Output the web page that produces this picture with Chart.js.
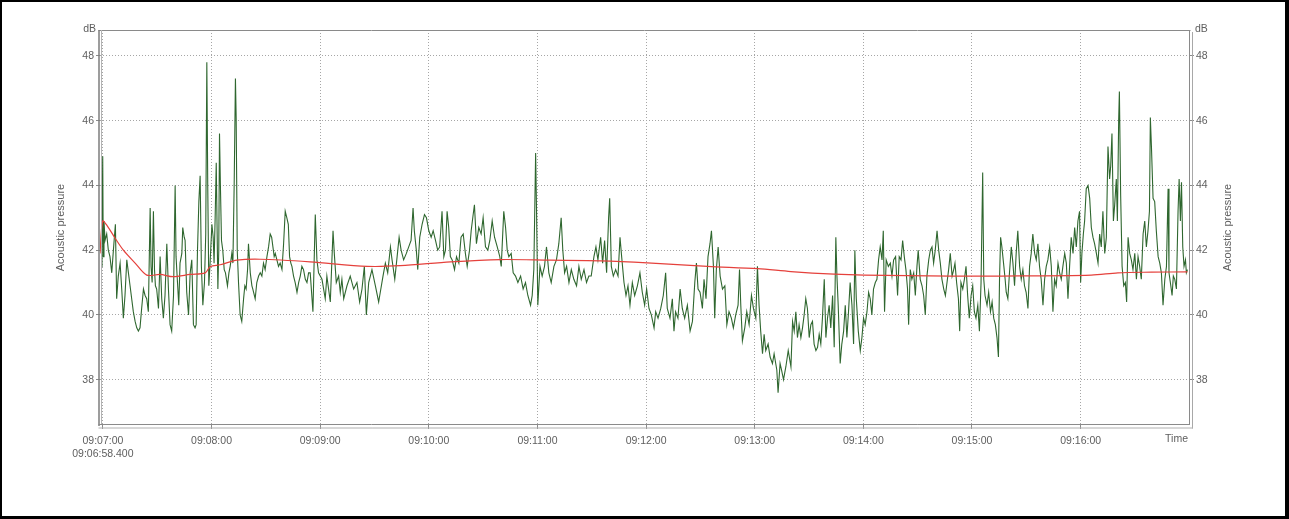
<!DOCTYPE html>
<html>
<head>
<meta charset="utf-8">
<script src="https://cdn.jsdelivr.net/npm/chart.js@4.4.1/dist/chart.umd.min.js"></script>
<style>
  html, body { margin: 0; padding: 0; background: #fff; }
  #wrap { position: relative; width: 1289px; height: 519px; overflow: hidden; }
  #chart { position: absolute; left: 0; top: 0; }
  #frame { position: absolute; left: 0; top: 0; width: 1289px; height: 519px; box-sizing: border-box;
           border: 2px solid #000; border-right-width: 4px; border-bottom-width: 3px; pointer-events: none; }
</style>
</head>
<body>
<div id="wrap">
  <canvas id="chart" width="1289" height="519"></canvas>
  <div id="frame"></div>
</div>
<script>
// Recording start and the minute marks shown on the time axis
const startLabel = '09:06:58.400';
const minuteLabels = ['09:07:00', '09:08:00', '09:09:00', '09:10:00', '09:11:00',
                      '09:12:00', '09:13:00', '09:14:00', '09:15:00', '09:16:00'];
const dbTicks = [38, 40, 42, 44, 46, 48];

// Instantaneous acoustic pressure: seconds after start, level in dB
const levelTimes = [
  0.6, 1.1, 1.5, 1.8, 2.2, 2.8, 3.7, 4.6, 5.5, 6.5, 7.4, 8.5, 9.2, 10.1, 11.1, 12.0, 12.9, 13.8, 14.8, 15.7,
  16.6, 17.5, 18.4, 19.4, 20.3, 21.2, 22.1, 23.0, 24.0, 24.9, 25.8, 26.7, 27.7, 28.2, 28.8, 29.5, 30.1, 30.6, 31.3, 32.3,
  33.2, 34.1, 35.0, 35.9, 36.9, 37.8, 38.7, 39.6, 40.6, 41.5, 42.0, 42.8, 43.5, 44.2, 45.2, 45.7, 46.5, 47.0, 47.9, 48.9,
  49.8, 50.7, 51.6, 52.5, 53.1, 53.8, 54.6, 55.3, 56.0, 56.8, 57.7, 58.4, 59.0, 59.5, 60.1, 60.8, 61.8, 62.5, 63.0, 63.6,
  64.2, 65.1, 65.6, 66.0, 66.5, 67.1, 67.8, 68.6, 69.3, 70.4, 71.2, 71.9, 72.8, 73.4, 74.1, 74.8, 75.2, 75.8, 76.5, 77.4,
  78.3, 79.3, 80.0, 80.7, 81.5, 82.0, 83.0, 83.9, 84.4, 85.7, 86.6, 87.6, 88.5, 89.4, 90.3, 91.2, 92.2, 93.1, 94.0, 94.8,
  95.5, 96.2, 96.8, 97.7, 98.6, 99.5, 100.5, 101.4, 102.3, 103.2, 104.0, 104.7, 105.4, 106.0, 106.9, 107.8, 108.8, 109.7, 110.6, 111.5,
  112.4, 113.4, 114.3, 115.2, 116.1,
  117.6, 118.9, 119.8, 120.7, 122.6, 124.4, 125.3, 127.2, 128.7, 129.4, 130.5, 131.8, 132.7, 133.6, 134.6, 136.4, 138.2, 140.1, 141.9, 143.4,
  144.7, 146.0, 147.1, 148.4, 150.2, 152.1, 153.9, 154.8, 156.3, 157.6, 158.9, 160.4, 161.3, 162.8, 164.1, 165.2, 166.3, 167.7, 169.2, 170.5,
  171.8, 172.9, 173.6, 174.7, 175.5, 176.6, 177.9, 179.2, 180.3, 181.6, 182.9, 184.0, 185.3, 186.5, 187.6, 188.9, 189.9, 190.8, 191.7, 192.6,
  193.5, 194.5, 195.8, 196.9, 198.2, 199.4, 200.6, 201.8, 202.8, 204.1, 205.0, 206.1, 206.8, 207.9, 209.2, 210.5, 211.6, 212.9, 214.2, 215.3,
  216.6, 217.9, 219.4, 220.8, 221.6, 223.0, 224.0, 224.9, 225.8, 227.1, 228.2, 229.5, 230.8, 232.3, 233.7, 235.0, 236.3, 237.8, 238.7, 239.6,
  240.6, 241.1, 241.8, 243.0, 244.2, 245.5, 246.6, 247.9,
  249.2, 250.7, 252.1, 253.4, 254.7, 255.6, 256.6, 257.7, 259.0, 260.3, 261.7, 263.2, 264.5, 265.8, 267.3, 268.7, 270.0, 271.3, 272.8, 273.9,
  275.0, 276.5, 277.6, 278.7, 279.8, 280.9, 281.5, 282.4, 283.5, 284.8, 286.1, 287.2, 288.1, 289.4, 290.5, 291.6, 292.7, 294.0, 295.3, 296.8,
  298.2, 299.5, 300.8, 301.9, 303.2, 304.5, 306.0, 306.9, 308.2, 309.7, 311.1, 312.4, 313.3, 314.8, 316.1, 317.0, 317.9, 319.2, 320.4, 321.6,
  322.9, 324.4, 325.9, 327.2, 328.5, 329.4, 330.3, 331.4, 332.7, 333.6, 334.7, 335.8, 336.9, 337.7, 338.8, 339.5, 340.4, 341.4, 342.5, 343.8,
  345.1, 346.2, 347.4, 348.7, 349.8, 351.1, 352.4, 353.2, 353.9, 354.8, 356.1, 357.2, 358.5, 359.8, 360.9, 362.2, 363.1, 364.0, 364.9, 365.9,
  366.8, 367.7, 369.0, 370.1, 371.4, 372.3, 373.8, 374.5, 375.6, 376.4, 377.5, 378.8, 380.1, 381.6,
  382.5, 383.4, 384.3, 385.2, 386.1, 387.1, 388.0, 388.9, 389.8, 390.7, 391.7, 392.6, 393.5, 394.4, 395.4, 396.3, 397.2, 398.1, 399.0, 400.0,
  400.9, 401.8, 402.7, 403.6, 404.6, 405.5, 406.4, 407.0, 407.7, 408.8, 409.7, 410.7, 411.6, 412.5, 413.4, 414.3, 415.3, 416.2, 416.9, 417.7,
  418.8, 419.9, 420.8, 421.7, 422.6, 423.6, 424.5, 425.4, 426.3, 427.2, 428.2, 429.1, 430.0, 430.9, 431.9, 432.6, 433.3, 434.2, 435.4, 436.5,
  437.4, 438.3, 439.4, 440.5, 441.4, 442.4, 443.3, 444.2, 445.1, 446.0, 446.6, 447.5, 448.4, 449.4, 450.3, 451.2, 451.9, 453.0, 454.0, 454.9,
  455.8, 456.7, 457.7, 458.6, 459.5, 460.4, 461.3, 462.3, 463.2, 464.1, 465.0, 466.0, 466.9, 467.8, 468.7, 469.6, 470.6, 471.5, 472.2, 473.1,
  474.1, 474.8, 475.5, 476.5, 477.4, 478.3, 479.2, 480.1, 481.1, 482.0, 482.9, 483.8, 484.8, 485.7, 486.6, 487.5, 488.1, 488.8, 489.9, 490.8,
  491.8, 492.7, 493.6, 494.5, 495.4, 496.2,
  496.8, 497.4, 498.1, 499.2, 499.9, 500.5, 501.4, 502.3, 503.3, 504.2, 505.1, 506.0, 506.9, 507.9, 508.8, 509.7, 510.6, 511.5, 512.5, 513.4,
  514.3, 515.2, 516.2, 517.1, 518.0, 518.9, 519.8, 520.8, 521.7, 522.6, 523.5, 524.5, 525.4, 526.3, 527.2, 528.1, 529.1, 530.0, 530.9, 531.8,
  532.8, 533.7, 534.6, 535.5, 536.4, 537.4, 538.3, 539.2, 540.1, 541.0, 541.6, 542.3, 543.1, 543.8, 544.7, 545.7, 546.6, 547.5, 548.4, 549.3,
  550.3, 551.2, 552.1, 553.0, 553.9, 554.9, 555.8, 556.7, 557.6, 558.2, 558.9, 559.7, 560.4, 561.3, 561.9, 562.6, 563.0, 563.7, 564.5, 565.4,
  566.3, 567.0, 567.8, 568.7, 569.6, 570.5, 571.5, 572.4, 573.3, 574.2, 575.1, 576.1, 577.0, 577.9, 578.8, 579.6, 580.1, 580.7, 581.6, 582.5,
  583.4, 584.4, 585.3, 586.2, 587.1, 588.1, 589.0, 589.9, 590.4, 591.4, 592.1, 592.8, 593.6, 594.5, 595.4, 596.0, 596.7, 597.3, 598.0, 598.7,
  599.5, 600.0, 600.6
];
const levelDb = [
  41.5, 42.0, 44.9, 41.8, 42.9, 42.3, 42.5, 42.0, 41.8, 41.3, 42.0, 42.8, 40.5, 41.2, 41.6, 40.8, 39.9, 40.6, 41.7, 41.3,
  40.9, 40.5, 40.1, 39.8, 39.6, 39.5, 39.6, 40.2, 40.8, 40.6, 40.5, 40.1, 43.3, 41.5, 41.0, 43.2, 41.4, 40.9, 40.8, 40.2,
  41.8, 40.5, 39.9, 40.6, 42.2, 40.8, 39.7, 39.5, 40.6, 44.0, 41.8, 41.0, 40.3, 41.6, 41.9, 42.7, 42.4, 42.3, 40.7, 40.0,
  41.3, 41.7, 39.7, 39.6, 39.7, 41.9, 43.5, 44.3, 41.5, 40.3, 41.0, 42.5, 47.8, 44.0, 40.9, 41.6, 42.8, 42.4, 41.6, 43.0,
  44.7, 40.8, 42.0, 45.6, 44.0, 42.3, 42.0, 41.4, 41.3, 40.9, 41.3, 41.5, 41.9, 41.6, 44.0, 47.3, 46.1, 42.0, 41.0, 40.0,
  39.8, 40.5, 40.9, 40.8, 41.4, 42.2, 41.3, 40.9, 40.8, 40.5, 41.0, 41.2, 41.3, 41.2, 41.6, 41.4, 41.8, 42.1, 42.5, 42.4,
  42.1, 41.8, 41.9, 41.7, 41.5, 41.6, 41.4, 42.2, 43.2, 43.0, 42.8, 41.8, 41.6, 41.5, 41.2, 41.0, 40.7, 41.0, 41.2, 41.5,
  41.4, 41.1, 41.0, 41.3, 41.3,
  40.1, 43.1, 41.7, 41.3, 41.1, 40.5, 41.2, 40.4, 42.6, 41.9, 41.0, 41.2, 40.7, 41.1, 40.5, 40.9, 41.2, 40.8, 41.0, 40.4,
  40.8, 41.5, 40.0, 41.0, 41.4, 40.9, 40.4, 40.7, 41.2, 41.6, 41.3, 42.1, 41.7, 41.1, 41.8, 42.4, 42.0, 41.7, 41.9, 42.1,
  42.3, 43.3, 42.6, 42.0, 41.4, 42.4, 42.8, 43.1, 43.0, 42.6, 42.4, 42.6, 42.3, 42.0, 42.1, 43.2, 41.8, 42.0, 43.2, 42.7,
  41.8, 41.7, 41.4, 41.8, 41.6, 42.4, 42.5, 41.9, 41.5, 42.0, 42.6, 43.1, 43.4, 42.2, 42.7, 42.5, 43.0, 42.1, 42.0, 42.3,
  42.9, 42.4, 42.1, 41.8, 41.5, 43.2, 42.7, 42.0, 41.8, 41.9, 41.3, 41.2, 41.0, 41.2, 40.8, 41.0, 40.6, 40.3, 40.6, 41.4,
  45.0, 43.2, 40.3, 41.5, 41.2, 41.5, 42.1, 41.3,
  41.0, 41.5, 41.7, 42.2, 43.0, 42.0, 41.3, 41.5, 41.0, 41.4, 41.1, 40.9, 41.5, 41.1, 41.4, 41.0, 41.2, 41.2, 41.8, 42.1,
  41.7, 42.4, 41.6, 42.3, 41.3, 43.0, 43.6, 41.5, 41.2, 41.4, 41.2, 42.4, 41.8, 41.0, 40.6, 40.9, 40.3, 41.0, 40.6, 40.9,
  41.3, 40.7, 40.3, 40.8, 40.2, 40.0, 39.6, 40.1, 39.9, 40.2, 40.6, 41.3, 40.2, 39.9, 40.5, 39.5, 40.1, 39.9, 40.8, 40.2,
  39.9, 40.3, 39.5, 39.8, 41.0, 41.6, 40.8, 40.7, 40.2, 41.1, 40.5, 41.8, 42.2, 42.6, 41.5, 39.9, 41.4, 42.1, 41.2, 40.8,
  40.9, 39.7, 40.1, 39.9, 39.6, 40.0, 40.3, 41.4, 40.3, 39.2, 39.6, 40.1, 39.7, 40.6, 40.2, 39.9, 41.5, 40.3, 39.5, 38.8,
  39.4, 38.9, 39.1, 38.7, 38.5, 38.8, 38.3, 37.6, 38.5, 38.3, 38.0, 38.4, 38.9, 38.4,
  39.8, 39.5, 40.1, 39.3, 39.7, 39.3, 39.6, 40.0, 40.5, 40.2, 39.3, 39.7, 39.8, 39.1, 38.9, 39.0, 39.4, 39.1, 39.9, 41.1,
  39.3, 39.9, 40.3, 39.6, 40.6, 39.0, 42.4, 41.2, 40.3, 38.5, 39.1, 39.5, 40.3, 39.3, 40.1, 41.0, 40.3, 39.1, 42.0, 40.5,
  39.5, 38.9, 39.3, 39.9, 39.7, 40.1, 40.7, 40.5, 40.0, 40.8, 41.0, 41.1, 41.7, 42.1, 41.7, 42.6, 40.1, 41.7, 41.5, 41.6,
  41.2, 41.7, 41.8, 40.6, 41.8, 41.7, 42.3, 41.8, 41.4, 40.8, 39.7, 41.4, 41.1, 41.3, 40.6, 41.5, 42.0, 41.1, 40.9, 40.6,
  40.0, 41.2, 41.7, 42.0, 42.1, 41.6, 42.0, 42.6, 42.0, 41.6, 41.1, 40.8, 40.6, 41.0, 41.4, 41.9, 41.2, 41.4, 41.6, 41.0,
  40.5, 39.5, 41.0, 40.8, 41.1, 41.5, 40.6, 39.9, 40.6, 40.9, 40.1, 39.9, 40.3, 39.5, 41.0, 44.4, 41.1, 40.6, 40.3, 40.7,
  40.1, 40.4, 39.9, 39.7, 39.3, 38.7,
  41.1, 42.4, 42.1, 41.5, 41.1, 40.7, 40.5, 41.3, 42.1, 41.6, 40.9, 41.9, 42.6, 41.5, 41.1, 41.4, 40.9, 40.7, 40.2, 41.5,
  41.9, 42.5, 41.9, 41.7, 42.2, 41.5, 41.1, 40.3, 41.1, 41.5, 41.7, 42.1, 41.5, 40.1, 41.1, 40.9, 41.6, 41.3, 41.1, 41.5,
  41.9, 41.6, 40.5, 41.5, 42.4, 41.9, 42.7, 42.1, 42.9, 43.2, 41.0, 41.9, 42.5, 42.9, 43.9, 44.0, 43.6, 42.7, 42.4, 42.2,
  41.9, 41.6, 42.5, 42.1, 43.2, 41.9, 42.4, 45.2, 44.2, 44.6, 45.6, 42.9, 43.4, 44.2, 42.9, 46.0, 46.9, 43.7, 41.5, 40.9,
  41.0, 40.4, 42.4, 41.9, 41.7, 41.4, 41.9, 41.1, 41.8, 41.5, 41.1, 42.5, 42.9, 42.1, 42.6, 43.2, 46.1, 45.2, 43.6, 43.5,
  42.6, 41.8, 41.6, 41.3, 40.3, 41.1, 41.5, 43.9, 41.3, 40.9, 40.6, 41.2, 41.1, 40.8, 43.2, 44.2, 42.9, 44.1, 42.1, 41.5,
  41.7, 41.3, 41.4
];

// Running average level
const avgTimes = [0, 1.5, 4, 8, 12.9, 19.4, 25.8, 33.2, 40.4, 49.8, 58.1, 60.8, 66.4, 75.6, 88.5, 116, 147.5, 165.9,
                  193.6, 221.2, 248.8, 276.5, 302.3, 335.5, 363.2, 381.6, 405.4, 422, 470, 497.7, 547.5, 562.2, 580.7, 600.6];
const avgDb = [41.9, 42.9, 42.75, 42.4, 42.0, 41.6, 41.23, 41.25, 41.18, 41.25, 41.3, 41.49, 41.55, 41.69, 41.72, 41.64, 41.5, 41.52,
               41.64, 41.71, 41.69, 41.67, 41.61, 41.5, 41.43, 41.34, 41.26, 41.23, 41.2, 41.2, 41.23, 41.3, 41.32, 41.33];

const toSeconds = s => { const [h, m, sec] = s.split(':'); return (+h) * 3600 + (+m) * 60 + parseFloat(sec); };
const startSec = toSeconds(startLabel);
const minuteOffsets = minuteLabels.map(l => toSeconds(l) - startSec);

const FONT = 'Liberation Sans, Arial, sans-serif';
const TEXT = '#5e5e5e';

const pairs = (xs, ys) => xs.map((x, i) => ({ x, y: ys[i] }));

const decor = {
  id: 'decor',
  afterDraw(chart) {
    const { ctx, chartArea: a } = chart;
    ctx.save();
    const seg = (x1, y1, x2, y2, c, w) => {
      ctx.beginPath(); ctx.strokeStyle = c; ctx.lineWidth = w;
      ctx.moveTo(x1, y1); ctx.lineTo(x2, y2); ctx.stroke();
    };
    // plot frame with a light offset edge
    seg(a.left - 1.5, a.top + 0.5, a.right + 0.5, a.top + 0.5, '#8a8a8a', 1);
    seg(a.left - 1, a.top, a.left - 1, a.bottom + 1, '#7c7c7c', 1.5);
    seg(a.left + 1.5, a.top, a.left + 1.5, a.bottom, '#b4b4b4', 1);
    seg(a.right - 0.5, a.top, a.right - 0.5, a.bottom, '#8a8a8a', 1);
    seg(a.right + 2.5, a.top + 2, a.right + 2.5, a.bottom + 3.5, '#a8a8a8', 1);
    seg(a.left - 1.5, a.bottom - 0.5, a.right, a.bottom - 0.5, '#8a8a8a', 1);
    seg(a.left - 1.5, a.bottom + 3, a.right + 3, a.bottom + 3, '#b0b0b0', 1);

    ctx.fillStyle = TEXT;
    ctx.font = '10.5px ' + FONT;
    ctx.textBaseline = 'middle';
    ctx.textAlign = 'right';
    ctx.fillText('dB', a.left - 4, a.top - 1);
    ctx.textAlign = 'left';
    ctx.fillText('dB', a.right + 5, a.top - 1);
    ctx.textAlign = 'right';
    ctx.textBaseline = 'top';
    ctx.fillText('Time', a.right - 2, a.bottom + 9);

    ctx.font = '11px ' + FONT;
    ctx.textAlign = 'center';
    ctx.textBaseline = 'middle';
    const mid = (a.top + a.bottom) / 2;
    [a.left - 39, a.right + 38].forEach(x => {
      ctx.save();
      ctx.translate(x, mid);
      ctx.rotate(-Math.PI / 2);
      ctx.fillText('Acoustic pressure', 0, 0);
      ctx.restore();
    });
    ctx.restore();
  }
};

const gridCommon = { color: '#a6a6a6', lineWidth: 1, tickColor: '#8a8a8a', tickBorderDash: [] };

new Chart(document.getElementById('chart'), {
  type: 'line',
  data: {
    datasets: [
      {
        label: 'Acoustic pressure',
        data: pairs(levelTimes, levelDb),
        borderColor: '#2f672f',
        borderWidth: 1.1,
        pointRadius: 0,
        tension: 0,
        yAxisID: 'y',
        order: 2
      },
      {
        label: 'Average',
        data: pairs(avgTimes, avgDb),
        borderColor: '#e5413c',
        borderWidth: 1.2,
        pointRadius: 0,
        tension: 0.3,
        yAxisID: 'y',
        order: 1
      }
    ]
  },
  options: {
    responsive: false,
    animation: false,
    events: [],
    layout: { padding: { top: 30, left: 0, right: 0, bottom: 0 } },
    plugins: { legend: { display: false }, tooltip: { enabled: false } },
    scales: {
      x: {
        type: 'linear',
        position: 'bottom',
        min: 0,
        max: 602,
        afterFit: s => { s.height = 94; },
        afterBuildTicks: s => { s.ticks = minuteOffsets.map(v => ({ value: v })); },
        ticks: {
          autoSkip: false,
          maxRotation: 0,
          padding: 5,
          color: TEXT,
          font: { family: FONT, size: 10.5, lineHeight: 1.3 },
          callback: (v, i) => i === 0 ? [minuteLabels[0], startLabel] : minuteLabels[i]
        },
        grid: { ...gridCommon, tickLength: 4 },
        border: { display: false, dash: [1, 2] }
      },
      y: {
        type: 'linear',
        position: 'left',
        min: 36.6,
        max: 48.8,
        afterFit: s => { s.width = 100; },
        afterBuildTicks: s => { s.ticks = dbTicks.map(v => ({ value: v })); },
        ticks: { padding: 2, color: TEXT, font: { family: FONT, size: 10.5 } },
        grid: { ...gridCommon, tickLength: 4 },
        border: { display: false, dash: [1, 2] }
      },
      y2: {
        type: 'linear',
        position: 'right',
        min: 36.6,
        max: 48.8,
        afterFit: s => { s.width = 99; },
        afterBuildTicks: s => { s.ticks = dbTicks.map(v => ({ value: v })); },
        ticks: { padding: 2, color: TEXT, font: { family: FONT, size: 10.5 } },
        grid: { drawOnChartArea: false, tickLength: 4, tickColor: '#8a8a8a', tickBorderDash: [] },
        border: { display: false }
      }
    }
  },
  plugins: [decor]
});
</script>
</body>
</html>
